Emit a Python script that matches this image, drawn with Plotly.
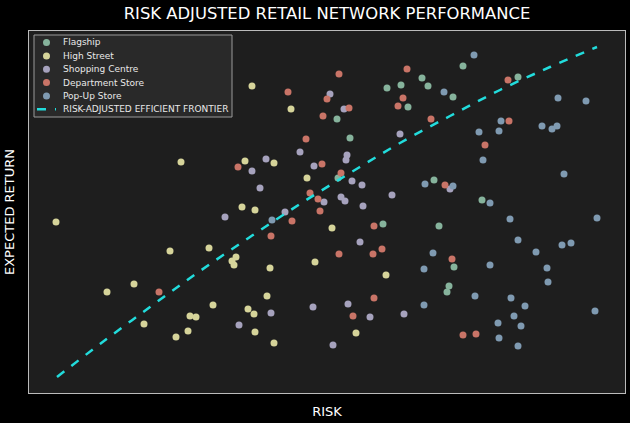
import plotly.graph_objects as go

# Data (risk, expected return) in arbitrary chart units
flagship_risk = [337, 350, 338, 387, 401, 422, 428, 408, 453, 463, 518, 434, 482, 383, 439, 454, 449, 447]
flagship_ret = [304, 285, 245, 335, 338, 345, 337, 316, 326, 357, 346, 243, 223, 199, 197, 156, 137, 131]

high_risk = [252, 291, 245, 274, 181, 307, 56, 242, 255, 332, 170, 209, 236, 232, 234, 270, 315, 134, 107, 213,
             267, 248, 254, 190, 196, 144, 176, 188, 255, 274, 386, 356]
high_ret = [337, 314, 262, 260, 261, 245, 201, 216, 213, 195, 172, 175, 166, 162, 158, 155, 161, 139, 131, 118,
            127, 114, 109, 107, 106, 99, 86, 92, 91, 80, 148, 90]

shop_risk = [330, 344, 300, 266, 252, 314, 260, 347, 346, 352, 362, 324, 341, 345, 363, 392, 400, 225, 285, 450,
             360, 348, 313, 271, 239, 370, 404, 333]
shop_ret = [329, 314, 271, 264, 252, 257, 235, 268, 263, 242, 238, 221, 226, 222, 217, 228, 289, 206, 211, 234,
            181, 119, 116, 110, 98, 106, 109, 78]

dept_risk = [288, 339, 327, 349, 323, 306, 238, 322, 341, 310, 318, 320, 292, 271, 159, 407, 403, 398, 431, 508,
             509, 485, 445, 374, 339, 373, 382, 452, 374, 353, 463, 476]
dept_ret = [331, 349, 324, 315, 307, 284, 256, 259, 250, 230, 224, 212, 202, 187, 131, 354, 325, 317, 304, 343,
            302, 278, 238, 197, 169, 169, 174, 164, 125, 107, 88, 89]

popup_risk = [444, 474, 558, 586, 501, 479, 499, 483, 542, 552, 557, 564, 425, 453, 490, 272, 510, 597, 518, 433,
              536, 562, 571, 424, 490, 547, 548, 475, 511, 525, 595, 424, 514, 521, 498, 499, 518]
popup_ret = [331, 368, 325, 322, 302, 291, 292, 263, 297, 294, 297, 249, 239, 237, 220, 203, 204, 205, 183, 170,
             171, 178, 180, 154, 158, 155, 141, 127, 125, 117, 112, 118, 107, 97, 100, 85, 77]

frontier_risk = [57, 100, 150, 200, 250, 300, 350, 400, 450, 500, 550, 597]
frontier_ret = [46, 79, 116, 152, 186, 219, 250, 280, 307, 333, 356, 376]

series_names = ["Flagship", "High Street", "Shopping Centre", "Department Store", "Pop-Up Store"]
series_colors = ["#86b39c", "#d6d49a", "#a6a2bd", "#c97467", "#7f9ab1"]
series_x = [flagship_risk, high_risk, shop_risk, dept_risk, popup_risk]
series_y = [flagship_ret, high_ret, shop_ret, dept_ret, popup_ret]
frontier_name = "RISK-ADJUSTED EFFICIENT FRONTIER"
frontier_color = "#22dcdc"

W, H = 630, 423
L, R, T, B = 29, 5, 31, 30
PW, PH = W - L - R, H - T - B


def px(x):  # pixel -> paper x
    return (x - L) / PW


def py(y):  # pixel -> paper y
    return (H - B - y) / PH


fig = go.Figure()
for name, xs, ys, col in zip(series_names, series_x, series_y, series_colors):
    fig.add_trace(go.Scatter(x=xs, y=ys, mode="markers", name=name, showlegend=False,
                             marker=dict(color=col, size=7, line=dict(width=0))))

fig.add_trace(go.Scatter(x=frontier_risk, y=frontier_ret, mode="lines", name=frontier_name,
                         showlegend=False,
                         line=dict(color=frontier_color, width=2.5, dash="dash", shape="spline")))

# Legend drawn as a framed box (matches the compact matplotlib-style legend)
shapes = [dict(type="rect", xref="paper", yref="paper", x0=px(34), x1=px(232), y0=py(117), y1=py(35),
               fillcolor="rgba(42,42,42,0.9)", line=dict(color="#9a9a9a", width=1), layer="above")]
annotations = []
row_y = [42.5, 56, 69.3, 82.6, 96, 109.3]
legend_font = dict(size=9, color="#e8e8e8", family="DejaVu Sans")
for i, (name, col) in enumerate(zip(series_names, series_colors)):
    yy = row_y[i]
    shapes.append(dict(type="circle", xref="paper", yref="paper", x0=px(43), x1=px(50),
                       y0=py(yy + 3.5), y1=py(yy - 3.5), fillcolor=col, line=dict(width=0), layer="above"))
    annotations.append(dict(text=name, xref="paper", yref="paper", x=px(61), y=py(yy), xanchor="left",
                            yanchor="middle", showarrow=False, font=legend_font))
yy = row_y[5]
shapes.append(dict(type="line", xref="paper", yref="paper", x0=px(37), x1=px(56), y0=py(yy), y1=py(yy),
                   line=dict(color=frontier_color, width=2.5, dash="dash"), layer="above"))
annotations.append(dict(text=frontier_name, xref="paper", yref="paper", x=px(61), y=py(yy), xanchor="left",
                        yanchor="middle", showarrow=False, font=legend_font))

fig.update_layout(
    width=W, height=H,
    paper_bgcolor="#000000", plot_bgcolor="#1e1e1e",
    font=dict(family="DejaVu Sans", color="#ffffff"),
    margin=dict(l=L, r=R, t=T, b=B),
    title=dict(text="RISK ADJUSTED RETAIL NETWORK PERFORMANCE", xref="paper", x=0.5, xanchor="center",
               y=1 - 13 / H, yanchor="middle", font=dict(size=16.4, color="#ffffff")),
    showlegend=False,
    shapes=shapes,
    annotations=annotations,
)
fig.update_xaxes(range=[29, 625], showticklabels=False, ticks="", showgrid=False, zeroline=False,
                 showline=True, linecolor="#bbbbbb", linewidth=1, mirror=True, automargin=False,
                 title=dict(text="RISK", font=dict(size=13, color="#ffffff"), standoff=13))
fig.update_yaxes(range=[30, 392], showticklabels=False, ticks="", showgrid=False, zeroline=False,
                 showline=True, linecolor="#bbbbbb", linewidth=1, mirror=True, automargin=False,
                 title=dict(text="EXPECTED RETURN", font=dict(size=13, color="#ffffff"), standoff=10))

fig.write_html("out.html", config={"displayModeBar": False},
               post_script="document.body.style.margin='0';document.body.style.overflow='hidden';"
                           "document.body.style.background='#000';")
